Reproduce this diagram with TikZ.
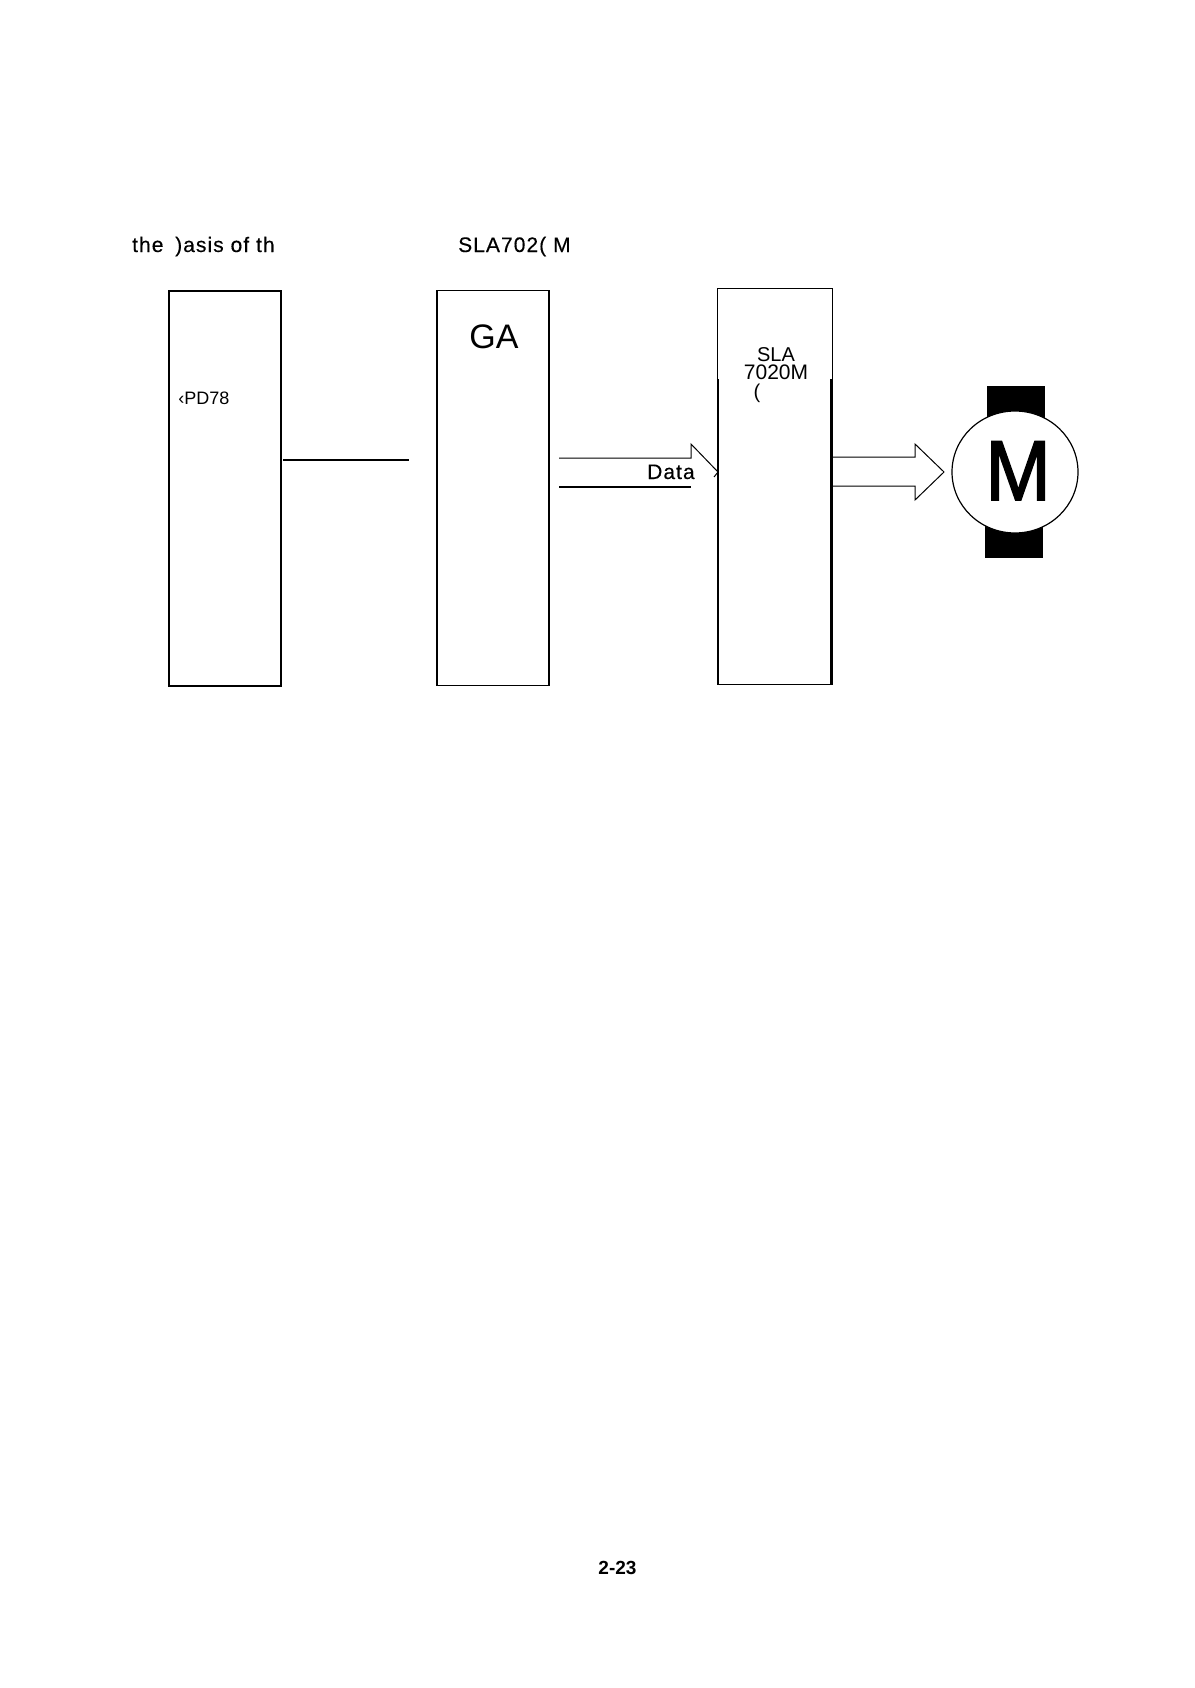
\documentclass[tikz,border=0pt]{standalone}
\usepackage{fontspec}
\setmainfont{Liberation Sans}
\newfontfamily\wideface[LetterSpace=5,FakeBold=0.3]{Liberation Sans}
\newfontfamily\heavyface[FakeBold=2]{Liberation Sans}
\usetikzlibrary{calc, shapes.geometric}

\begin{document}
\begin{tikzpicture}[x=1pt, y=-1pt,
    chipbox/.style={draw, rectangle, line width=1.7pt, inner sep=0pt, minimum width=112pt, minimum height=395pt},
    caption/.style={inner sep=0pt, anchor=base west, font=\wideface\fontsize{21}{21}\selectfont},
    chiplabel/.style={inner sep=0pt, anchor=base, font=\fontsize{20}{20}\selectfont},
    wire/.style={line width=1.5pt},
    hollowarrow/.style={line width=1pt, line join=miter},
    magnet/.style={draw=none, fill=black, rectangle, inner sep=0pt, minimum width=58pt, minimum height=60pt}]
    \useasboundingbox (0,0) rectangle (1194,1688);
    % text above the blocks
    \node[caption] (basistext) at (132,252) {the };
    \node[caption] (basisrest) at (175,252) {)asis of th};
    \node[caption] (slatext) at (458,252) {SLA702( M};
    % blocks
    \node[chipbox] (cpu) at (225,488.5) {};
    \node[chipbox] (ga) at (493,488) {};
    \node[chipbox, line width=1pt, minimum width=115pt, minimum height=396pt] (sla) at (774.5,486) {};
    \draw[line width=2pt] (717.5,379) -- (717.5,684);
    \draw[line width=2pt] (831,379) -- (831,684);
    \node[inner sep=0pt, anchor=base, font=\fontsize{18}{18}\selectfont] (cpulabel) at (204,404) {‹PD78};
    \node[inner sep=0pt, anchor=base, font=\fontsize{34}{34}\selectfont] (galabel) at (494,348) {GA};
    \node[chiplabel] (slaname) at (776,361) {SLA};
    \node[chiplabel, font=\fontsize{21}{21}\selectfont] (slanum) at (776,379) {7020M};
    \node[chiplabel] (slaparen) at (757,398) {(};
    % connectors
    \coordinate (cpuout) at (283,460);
    \coordinate (gain) at (409,460);
    \draw[wire] (cpuout) -- (gain);
    \coordinate (datatail) at (559,472);
    \coordinate (datatip) at (718,472);
    \draw[hollowarrow] (datatail) ++(0,-14) -- ++(132,0) -- ++(0,-14) -- (datatip) -- ++(-4,5);
    \draw[wire] (datatail) ++(0,15) -- ++(132,0);
    \node[caption] (datalabel) at (647,479) {Data};
    \coordinate (slaout) at (832,472);
    \coordinate (motorin) at (944,472);
    \draw[hollowarrow] (slaout) ++(0,-15) -- ++(83,0) -- ++(0,-13) -- (motorin) -- ++(-29,28) -- ++(0,-14) -- ++(-83,0);
    % motor
    \node[magnet] (magnettop) at (1016,416) {};
    \node[magnet] (magnetbottom) at (1014,528) {};
    \node[draw, ellipse, fill=white, line width=1.2pt, inner sep=0pt, minimum width=126pt, minimum height=122pt] (motor) at (1015,472) {};
    \node[inner sep=0pt, anchor=base, xscale=0.92, transform shape, font=\heavyface\fontsize{85}{85}\selectfont] (motorlabel) at (1025,500) {\hspace{-15pt}M};
    % page number
    \node[inner sep=0pt, anchor=base, font=\bfseries\fontsize{19}{19}\selectfont] (pagenum) at (617.5,1574) {2-23};
\end{tikzpicture}
\end{document}
